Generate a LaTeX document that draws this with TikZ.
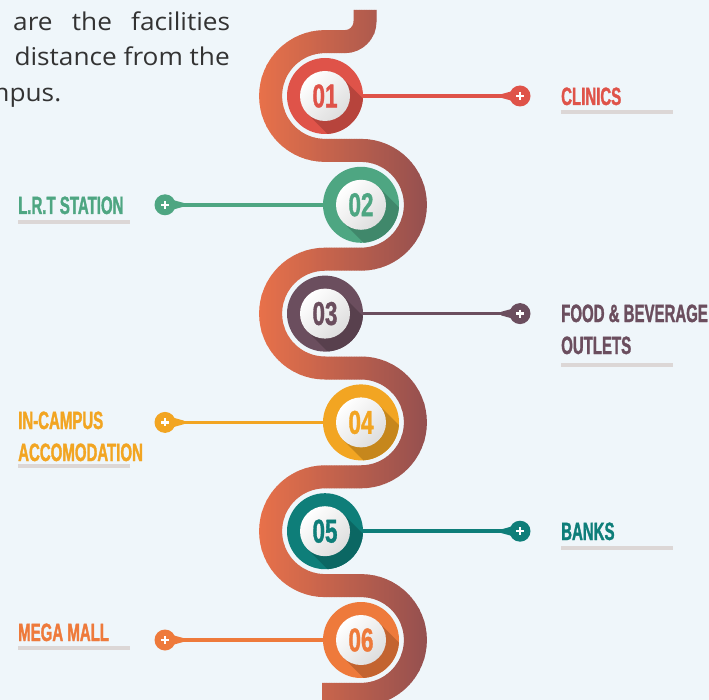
\documentclass[tikz,border=0pt]{standalone}
\usepackage{fontspec}
\setmainfont{Open Sans}
\newfontfamily\parafont[FakeStretch=1.07]{Open Sans}
\newfontfamily\labelfont[FakeStretch=0.6,FakeBold=1.3,UprightFont={* Bold}]{Liberation Sans}
\newfontfamily\numfont[FakeStretch=0.68,FakeBold=1,UprightFont={* Bold}]{Liberation Sans}
\usetikzlibrary{calc}

\definecolor{bgblue}{HTML}{EFF6FA}
\definecolor{snakeL}{HTML}{EA724A}
\definecolor{snakeR}{HTML}{95504F}
\definecolor{cred}{HTML}{DF5349}
\definecolor{cgreen}{HTML}{4EA682}
\definecolor{cplum}{HTML}{6B4E5E}
\definecolor{cyellow}{HTML}{F2A522}
\definecolor{cteal}{HTML}{0E7E79}
\definecolor{corange}{HTML}{EE7A3B}
\definecolor{ulgray}{HTML}{DCD7D6}
\definecolor{txtgray}{HTML}{333333}

% centre line of the winding band
\newcommand{\snakepath}{(365,10) -- (365,21.6) arc[start angle=0,end angle=90,radius=20]
  -- (325,41.6) arc[start angle=270,end angle=90,radius=54.4]
  -- (361,150.4) arc[start angle=-90,end angle=90,radius=54.4]
  -- (325,259.2) arc[start angle=270,end angle=90,radius=54.4]
  -- (361,368) arc[start angle=-90,end angle=90,radius=54.4]
  -- (325,476.8) arc[start angle=270,end angle=90,radius=54.4]
  -- (361,585.6) arc[start angle=-90,end angle=90,radius=54.4]
  -- (322,694.4)}

\tikzset{
  band/.style={line width=23pt},
  ring/.style={circle, minimum size=76pt, inner sep=0pt},
  disc/.style={circle, minimum size=50pt, inner sep=0pt, top color=white, bottom color=black!13, shading angle=45, font=\numfont\fontsize{33}{33}\selectfont},
  knob/.style={circle, minimum size=21pt, inner sep=0pt},
  stem/.style={line width=3.5pt},
  lbl/.style={inner sep=0pt, align=left, font=\labelfont\fontsize{25}{32}\selectfont},
  uline/.style={ulgray, line width=4pt},
  para/.style={inner sep=0pt, text=txtgray, font=\parafont\fontsize{24.5}{24.5}\selectfont}
}

\begin{document}
\begin{tikzpicture}[x=1pt,y=-1pt]
    \useasboundingbox (0,0) rectangle (709,700);
    \clip (0,0) rectangle (709,700);
    \fill[bgblue] (0,0) rectangle (709,700); % background

    % intro text, cut at the left edge
    \node[para, anchor=base west] (t1) at (13,31) {\makebox[217pt][s]{are the facilities}};
    \node[para, anchor=base east] (t2) at (230,66) {distance from the};
    \node[para, anchor=base west] (t3) at (-15,102) {mpus.};

    % band, coloured strip by strip from orange to brown
    \foreach \s in {0,...,69} {
        \pgfmathsetmacro{\xa}{254+2.5*\s}
        \pgfmathtruncatemacro{\pc}{100-100*\s/69}
        \begin{scope}
            \clip (\xa,0) rectangle (\xa+2.8,700);
            \draw[band, snakeL!\pc!snakeR] \snakepath;
        \end{scope}
    }

    % the six stops
    \foreach \i/\x/\col/\px/\dir/\lx/\by/\uy/\txt in {
        1/325/cred/520/-1/561/105/112/{CLINICS},
        2/361/cgreen/165/1/18/214/222/{L.R.T STATION},
        3/325/cplum/520/-1/561/354/365/{FOOD \& BEVERAGE\\OUTLETS},
        4/361/cyellow/165/1/18/461/466/{IN-CAMPUS\\ACCOMODATION},
        5/325/cteal/520/-1/561/540/548/{BANKS},
        6/361/corange/165/1/18/641/648/{MEGA MALL}} {
        \pgfmathsetmacro{\y}{96+108.8*(\i-1)}
        \node[ring, fill=\col] (c\i) at (\x,\y) {}; % coloured ring
        \begin{scope}
            \clip (c\i.center) circle (38);
            \fill[\col!82!black] ($(c\i.center)+(135:25)$) -- ($(c\i.center)+(-45:25)$) -- ++(45:60) -- ($(c\i.center)+(135:25)+(45:60)$) -- cycle; % long shadow
        \end{scope}
        \node[disc, text=\col] (d\i) at (c\i.center) {0\i}; % white disc with number
        \node[knob, fill=\col] (p\i) at (\px,\y) {}; % end knob
        \fill[\col] ($(p\i.center)+(0,-7)$) -- ($(p\i.center)+(\dir*19,-1.75)$) -- ($(p\i.center)+(\dir*19,1.75)$) -- ($(p\i.center)+(0,7)$) -- cycle;
        \draw[stem, \col] (c\i) -- (p\i); % connector
        \draw[white, line width=2.2pt] ($(p\i.center)+(-4,0)$) -- ($(p\i.center)+(4,0)$) ($(p\i.center)+(0,-4)$) -- ($(p\i.center)+(0,4)$); % plus sign
        \node[lbl, text=\col, anchor=base west] (l\i) at (\lx,\by) {\txt};
        \draw[uline] (\lx,\uy) -- ++(112,0); % grey underline
    }
\end{tikzpicture}
\end{document}
